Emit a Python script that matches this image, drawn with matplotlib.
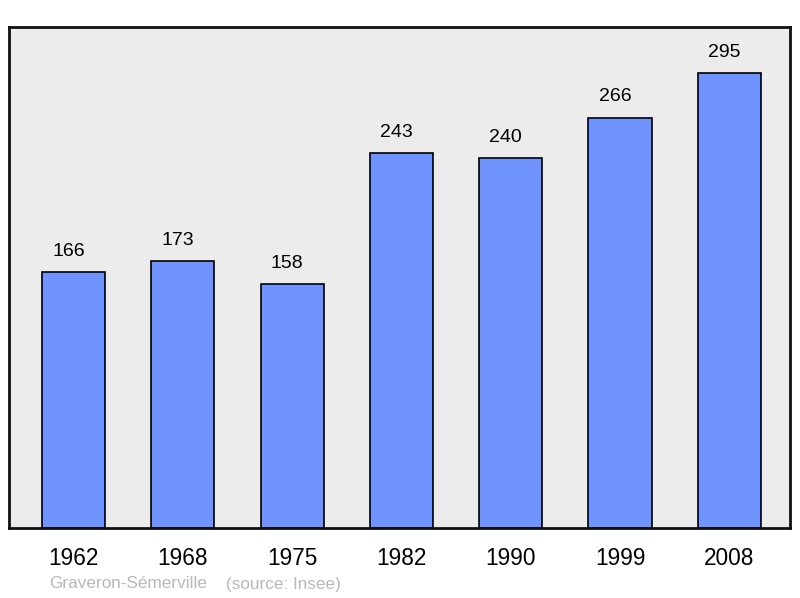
import matplotlib
matplotlib.use('Agg')
from matplotlib import pyplot as plt
import numpy as np

years = ['1962', '1968', '1975', '1982', '1990', '1999', '2008']
population = [166, 173, 158, 243, 240, 266, 295]
commune = 'Graveron-Sémerville'
source = '(source: Insee)'

plt.rcParams['font.family'] = ['Liberation Sans', 'DejaVu Sans']

fig = plt.figure(figsize=(8, 5.98), dpi=100)
ax = fig.add_axes([9 / 800, 70 / 598, 781 / 800, 501 / 598])
ax.set_facecolor('#ececec')

x = np.arange(len(years))
bars = ax.bar(x, population, width=0.577, color='#7094ff', edgecolor='black', linewidth=1.2, zorder=2)

# value labels above each bar (slightly left of centre, as in the original)
for b, v in zip(bars, population):
    ax.annotate(str(v), (b.get_x() + b.get_width() / 2, v), xytext=(-3.6, 9), textcoords='offset points',
                ha='center', va='bottom', fontsize=14, color='black')

ax.set_xlim(-0.59, 6.555)
ax.set_ylim(0, 325)
ax.set_xticks(x)
ax.set_xticklabels(years, fontsize=16.3)
ax.set_yticks([])
ax.tick_params(axis='x', length=0, pad=14)
for s in ax.spines.values():
    s.set_linewidth(2)
    s.set_color('#111111')

fig.text(49 / 800, 1 - 584 / 598, commune, fontsize=12.3, color='#b8b8b8', va='center', ha='left')
fig.text(226 / 800, 1 - 584 / 598, source, fontsize=12.3, color='#b8b8b8', va='center', ha='left')

plt.savefig('out.png', dpi=100)
plt.close()
